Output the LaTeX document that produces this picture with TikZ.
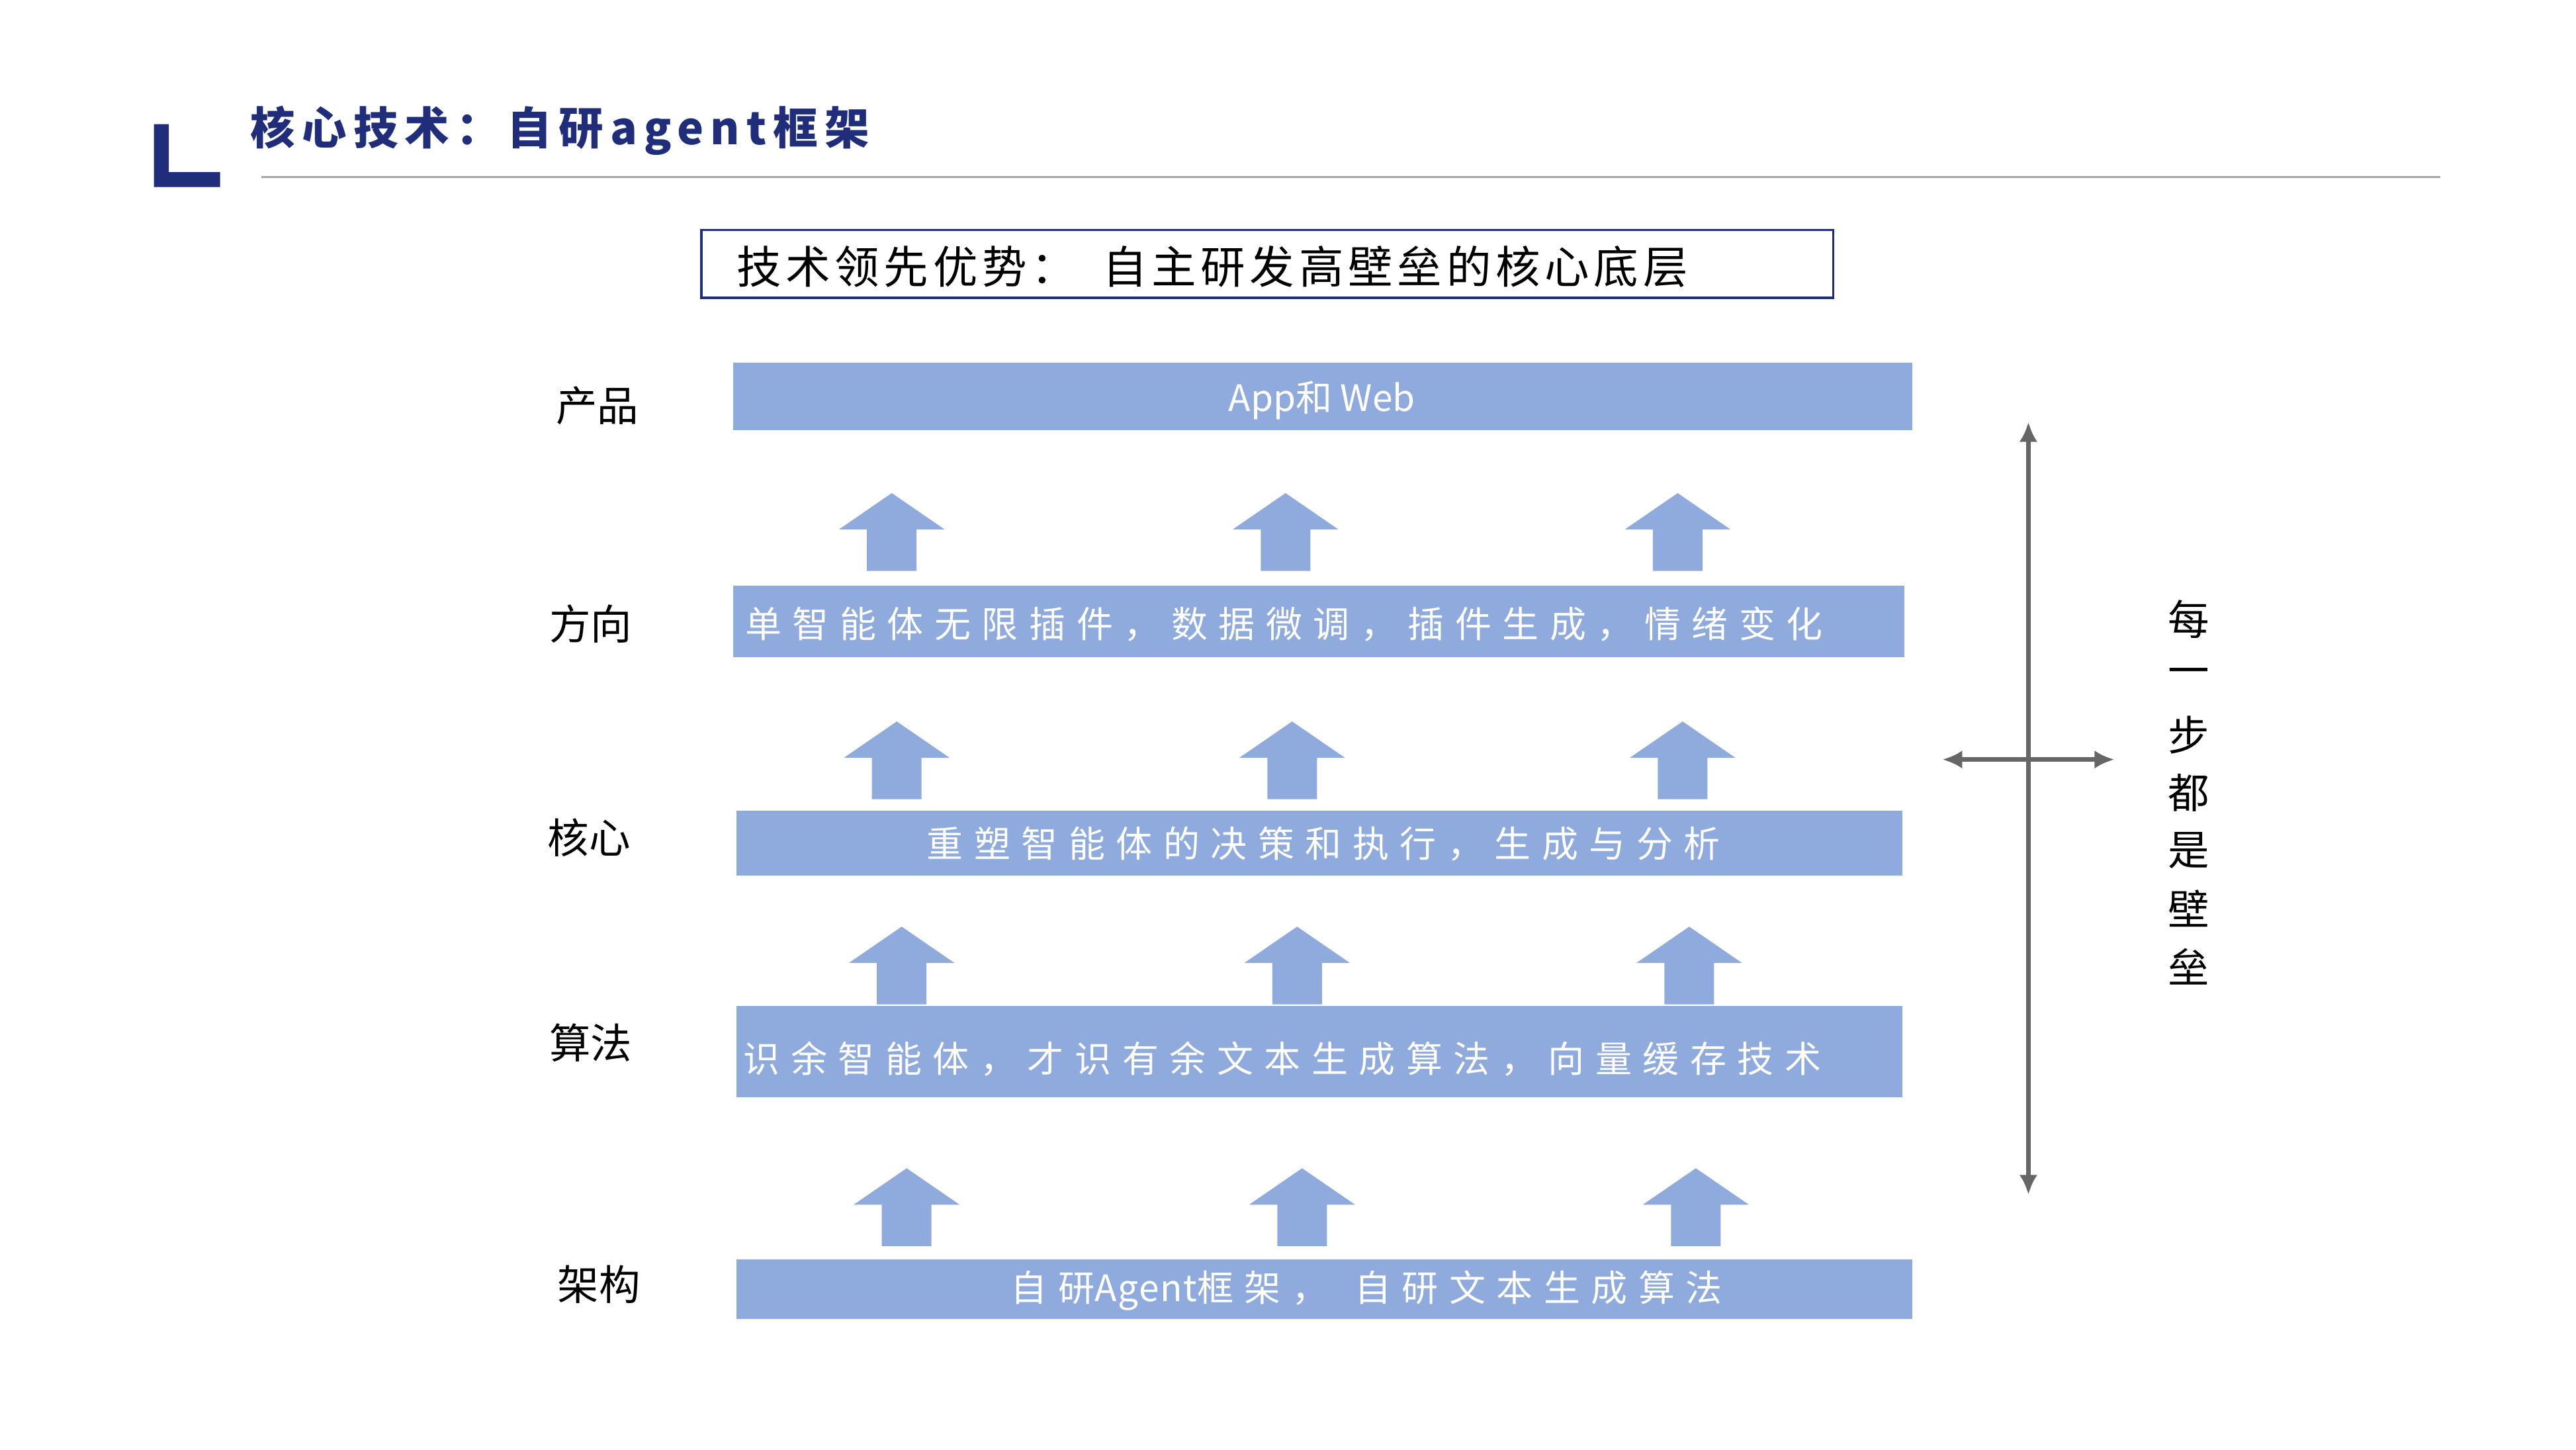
\documentclass[tikz,border=0pt]{standalone}
\usepackage{fontspec}
\setmainfont{Noto Sans CJK SC}
\newfontfamily\cjk{Noto Sans CJK SC}
\usetikzlibrary{shapes.arrows,arrows.meta}
\definecolor{navy}{HTML}{1F2D7B}
\definecolor{barc}{HTML}{8FAADC}
\definecolor{gr}{HTML}{666666}
\begin{document}
\begin{tikzpicture}[x=1pt,y=-1pt,
 bar/.style={fill=barc,draw=none},
 bt/.style={text=white,font=\fontsize{22}{24}\selectfont\addfontfeature{LetterSpace=30},anchor=center},
 lab/.style={font=\fontsize{25}{27}\selectfont,anchor=center},
 up/.style={fill=barc,draw=none},
 ar/.style={gr,line width=3pt,-{Latex[length=12pt,width=11pt]}}]
\useasboundingbox (0,0) rectangle (1557,876);
% header
\fill[navy] (93,75) rectangle (102,113) (93,104) rectangle (133,113);
\node[anchor=west,text=navy,font=\fontsize{27}{29}\selectfont\bfseries\addfontfeature{LetterSpace=15}] (title) at (148,79) {核心技术：自研agent框架};
\draw[gray!70,line width=1.5pt] (158,107) -- (1475,107);
\node[draw=navy,line width=1.5pt,minimum width=684,minimum height=41,inner sep=0] (box) at (766,159.5) {};
\node[anchor=west,font=\fontsize{27}{29}\selectfont\addfontfeature{LetterSpace=10},inner sep=0] (boxt) at (445,161) {技术领先优势：\hspace{16pt}自主研发高壁垒的核心底层};
% bars
\path[bar] (443,219) rectangle (1156,260);
\node[text=white,font=\fontsize{22}{24}\selectfont] (b1) at (799,242) {App和 Web};
\path[bar] (443,354) rectangle (1151,397);
\node[bt,anchor=west] (b2) at (447,377) {单智能体无限插件，数据微调，插件生成，情绪变化};
\path[bar] (445,490) rectangle (1150,529);
\node[bt] (b3) at (800,510) {重塑智能体的决策和执行，生成与分析};
\path[bar] (445,608) rectangle (1150,663);
\node[bt,anchor=west] (b4) at (446,640) {识余智能体，才识有余文本生成算法，向量缓存技术};
\path[bar] (445,761) rectangle (1156,797);
\node[bt] (b5) at (826,780) {自研{\addfontfeature{LetterSpace=3}Agent}框架，\hspace{16pt}自研文本生成算法};
% labels
\node[lab] (l1) at (361,245) {产品};
\node[lab] (l2) at (357,377) {方向};
\node[lab] (l3) at (356,506) {核心};
\node[lab] (l4) at (357,630) {算法};
\node[lab] (l5) at (362,776) {架构};
% up arrows
\foreach \x/\y in {539/298,777/298,1014/298,542/436,781/436,1017/436,545/560,784/560,1021/560,548/706,787/706,1025/706}{
 \path[up] (\x-32,\y+22) -- (\x,\y) -- (\x+32,\y+22) -- (\x+15,\y+22) -- (\x+15,\y+47) -- (\x-15,\y+47) -- (\x-15,\y+22) -- cycle;
}
% cross arrows
\coordinate (c) at (1226,459);
\coordinate (vt) at (1226,255); \coordinate (vb) at (1226,722);
\coordinate (hl) at (1174,459); \coordinate (hr) at (1278,459);
\draw[ar] (c) -- (vt);
\draw[ar] (c) -- (vb);
\draw[ar] (c) -- (hl);
\draw[ar] (c) -- (hr);
% vertical text
\foreach \c [count=\i from 0] in {每,一,步,都,是,壁,垒}{
 \node[lab,font=\fontsize{25}{27}\selectfont] (v\i) at (1323,374+35*\i) {\c};
}
\end{tikzpicture}
\end{document}
